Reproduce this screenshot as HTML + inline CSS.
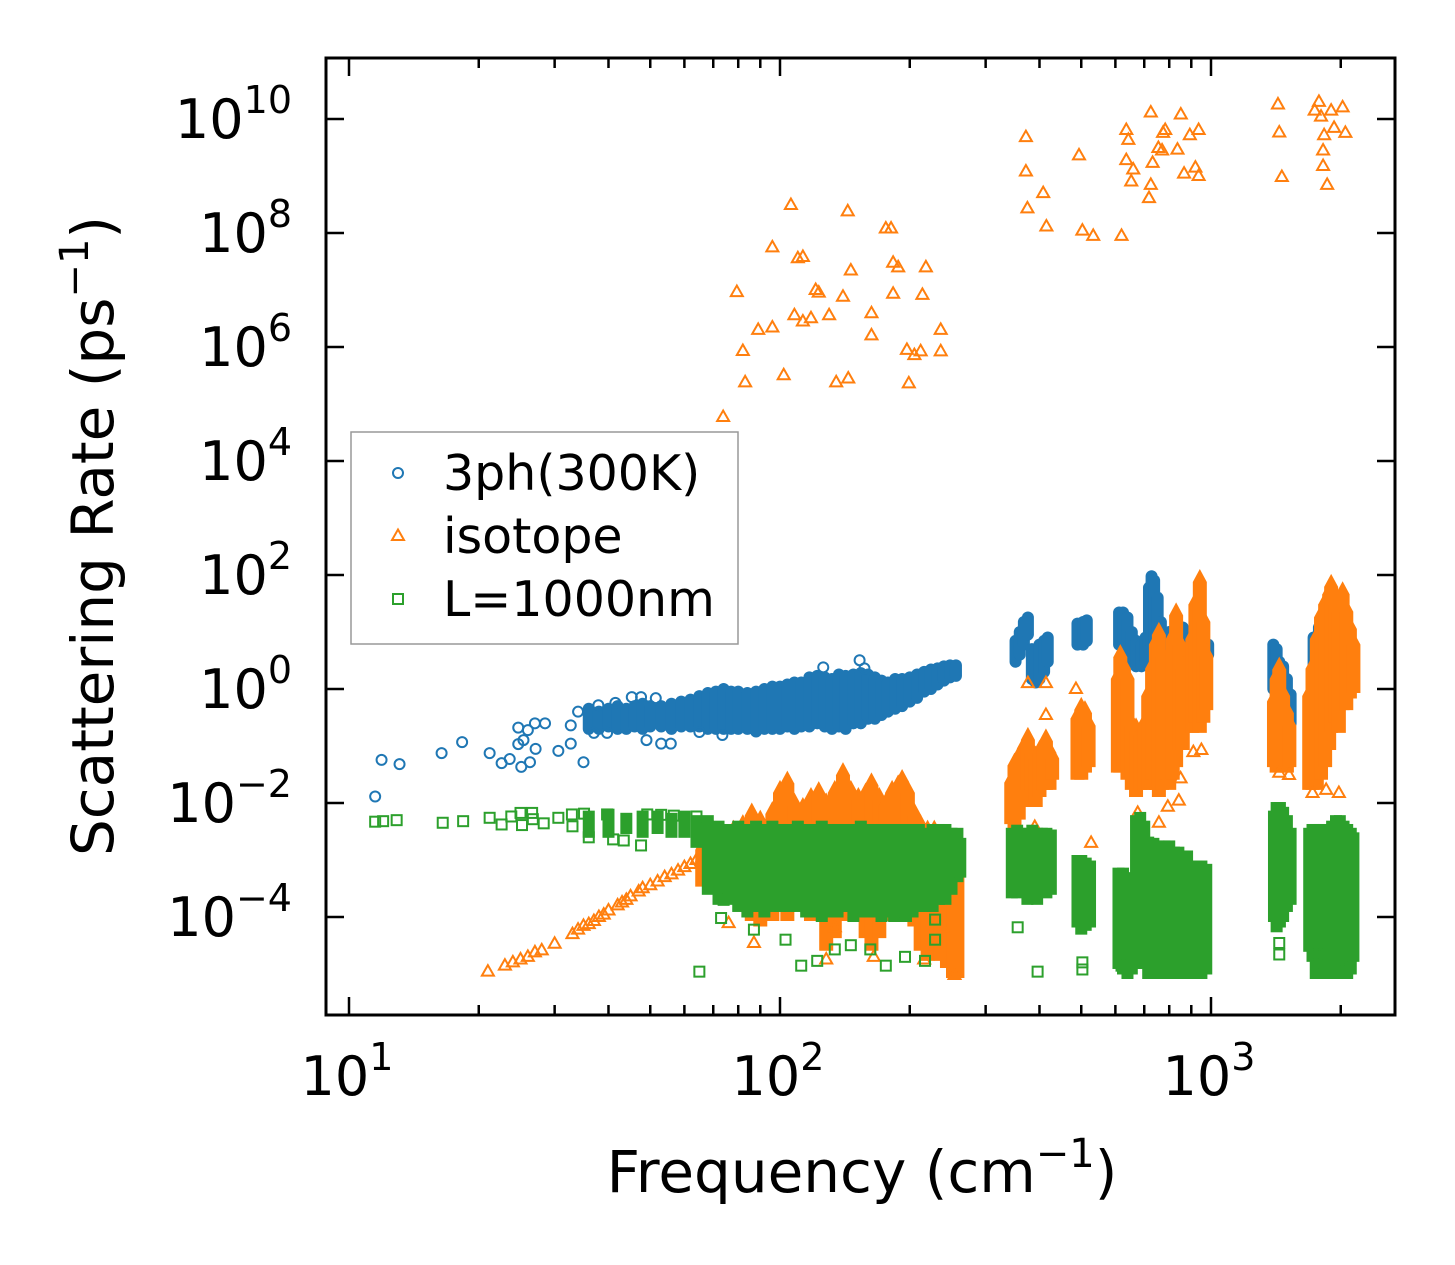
<!DOCTYPE html>
<html><head><meta charset="utf-8"><style>
html,body{margin:0;padding:0;background:#fff;}
svg{display:block;font-family:"DejaVu Sans","Liberation Sans",sans-serif;}
</style></head><body>
<svg id="chart" width="1455" height="1265" viewBox="0 0 1455 1265" xmlns="http://www.w3.org/2000/svg">
<rect x="0" y="0" width="1455" height="1265" fill="#fff"/>
<g id="marks"></g>
<g id="axes"></g>
</svg>
<script>
// ---- data ----
const blueFreq=[11.5,11.9,13.1,16.4,18.3,21.2,22.6,23.6,25.1,26.3,24.7,25.4,24.7,26,27,28.5,27.1,30.6,35,32.7,32.7,34,37,37.9,41.5,45.3,47.6,51.5,49,53,55.8,39.7,65,73.5,126,153,157];
const blueVal=[0.013,0.057,0.048,0.075,0.117,0.075,0.05,0.059,0.043,0.052,0.108,0.127,0.21,0.19,0.25,0.25,0.089,0.082,0.052,0.11,0.23,0.4,0.17,0.52,0.57,0.72,0.72,0.69,0.127,0.11,0.11,0.17,0.176,0.156,2.4,3.2,2.3];
const blueStreakFreq=[36,38,40,42,44,46,48,50,53,56,59,62,65,68,71,74,77,80,84,88,92,96,100,104,108,112,117,122,127,132,137,142,148,154,160,166,172,178,185,192,200,208,216,224,232,240,248,256,
352,360,368,376,384,392,400,410,418,490,505,515,612,625,640,655,670,690,705,718,728,738,752,765,780,800,830,860,890,910,935,960,985,
1395,1420,1440,1470,1500,1530,1700,1730,1760,1730,1780,1830,1880,1930,1980,2040,2100,2140];
const blueStreakLo=[0.2,0.2,0.22,0.2,0.2,0.22,0.2,0.22,0.22,0.2,0.22,0.22,0.22,0.2,0.2,0.2,0.2,0.2,0.2,0.18,0.2,0.2,0.2,0.22,0.2,0.22,0.22,0.25,0.22,0.2,0.22,0.2,0.25,0.25,0.3,0.3,0.35,0.4,0.45,0.5,0.6,0.7,0.9,1.0,1.2,1.4,1.6,1.7,
3,4,6,9,1.5,1.3,1.5,2,3,6,6,7,6,5,5,3,2.5,2.5,3,5,6,4,3,3,3,3,3,2.4,3,3.2,3.5,3.5,4,
1,0.5,0.3,0.25,0.2,0.25,0.03,0.022,0.05,0.5,0.4,0.5,0.45,0.5,0.6,0.8,1,1.5];
const blueStreakHi=[0.45,0.4,0.45,0.5,0.45,0.5,0.55,0.5,0.5,0.55,0.6,0.65,0.75,0.85,0.9,1.0,0.9,0.9,0.85,0.9,1.0,1.1,1.1,1.2,1.3,1.3,1.6,1.7,1.6,1.5,1.8,1.7,1.8,1.9,1.8,1.6,1.4,1.3,1.5,1.5,1.6,1.8,2.0,2.2,2.3,2.5,2.6,2.6,
7,10,15,18,5,5,6,7,8,14,15,16,22,22,18,10,7,6,8,60,95,80,40,15,8,10,12,12,10,9,9,8,6,
6,5,3,2.5,1.5,0.8,0.5,0.3,0.5,8,12,15,16,14,12,10,8,5];

const orFreq=[73.8,79.4,82,83,89,96,96,102,106,110,113,108,113,118,121,123,130,135,140,144,143.6,146,163,163,176,181,183,188,183,197,199,205,212,214,218,236,236,
372,372,375,408,415,494,503,533,636,643,620,636,660,653,718,725,725,732,755,774,770,783,836,851,866,893,920,936,936,
1430,1440,1460,1740,1780,1800,1830,1820,1820,1860,1900,1930,2020,2050,
21,23,24,25,26,27,28,30,33,34,35,36,37,38,39,40,42,43,44,45,47,48,50,52,54,56,58,60,62,64,66,
87,76,134,128,165,216,254,238,376,414,414,390,486,527,676,757,794,842,950,910,850,1440,1517,1980,1850,1720];
const orVal=[5.9e4,9.2e6,8.5e5,2.4e5,2e6,5.6e7,2.2e6,3.2e5,3.1e8,3.6e7,3.8e7,3.6e6,2.8e6,3.2e6,1e7,9e6,3.6e6,2.4e5,7.6e6,2.8e5,2.4e8,2.2e7,3.9e6,1.6e6,1.2e8,1.2e8,3e7,2.5e7,8.6e6,8.9e5,2.3e5,7.2e5,8.4e5,8.2e6,2.5e7,2e6,8.4e5,
4.8e9,1.2e9,2.7e8,5e8,1.3e8,2.3e9,1.1e8,8.9e7,6.4e9,4.3e9,8.9e7,1.9e9,1.3e9,8e8,4.1e8,7e8,1.3e10,1.7e9,3.1e9,5.7e9,2.8e9,6.4e9,2.9e9,1.2e10,1.1e9,5.2e9,1.4e9,1e9,6.4e9,
1.8e10,5.8e9,9.6e8,1.4e10,2e10,1.1e10,5.2e9,1.5e9,2.8e9,7e8,1.4e10,7e9,1.6e10,5.7e9,
1.1e-5,1.4e-5,1.6e-5,1.8e-5,2e-5,2.4e-5,2.6e-5,3.4e-5,5e-5,6e-5,7e-5,7.5e-5,8.5e-5,1e-4,1.1e-4,1.3e-4,1.6e-4,1.8e-4,2e-4,2.3e-4,2.8e-4,3.2e-4,3.6e-4,4.2e-4,5e-4,5.6e-4,6.5e-4,7.5e-4,8.5e-4,1e-3,1.1e-3,
3.5e-5,7.8e-5,6.6e-5,1.8e-5,2e-5,1.8e-5,9.6e-6,6.6e-5,1.27,1.27,0.35,0.0038,1.0,0.002,0.0067,0.0045,0.0086,0.011,0.085,0.078,0.027,0.034,0.031,0.015,0.017,0.015];
const orStreakFreq=[66,70,74,78,82,86,90,96,100,104,108,113,118,123,128,134,140,146,152,158,163,170,176,182,188,192,198,205,212,220,228,236,244,252,258,
344,350,358,368,376,384,392,400,408,414,422,428,490,500,510,520,
608,616,628,640,655,670,685,700,715,730,745,757,770,785,800,815,830,845,860,875,905,920,942,960,975,
1400,1420,1440,1470,1500,1520,1690,1720,1760,1800,1840,1880,1900,1940,1980,2020,2060,2100,2140];
const orStreakLo=[4e-4,3e-4,3e-4,3e-4,2e-4,1e-4,8e-5,1e-4,2e-4,1e-4,2e-4,2e-4,1e-4,1e-4,3e-5,5e-5,1e-4,1e-4,1e-4,5e-5,3e-5,5e-5,1e-4,1e-4,1e-4,1e-4,1e-4,8e-5,3e-5,2e-5,3e-5,2e-5,1.5e-5,1e-5,1e-5,
0.005,0.004,0.006,0.01,0.02,0.02,0.01,0.015,0.02,0.02,0.02,0.03,0.03,0.03,0.04,0.05,
0.04,0.04,0.05,0.03,0.02,0.015,0.02,0.02,0.02,0.03,0.02,0.015,0.02,0.03,0.02,0.03,0.05,0.1,0.1,0.2,0.2,0.3,0.2,0.3,0.5,
0.05,0.04,0.05,0.04,0.04,0.05,0.02,0.02,0.02,0.03,0.05,0.1,0.2,0.3,0.2,0.5,0.5,0.8,1];
const orStreakHi=[2e-3,4e-3,3e-3,4e-3,5e-3,8e-3,6e-3,8.5e-3,0.02,0.029,0.012,0.01,0.015,0.019,0.012,0.02,0.041,0.02,0.015,0.018,0.027,0.015,0.012,0.02,0.025,0.031,0.02,0.008,0.005,0.004,0.004,0.003,0.0025,0.002,0.0015,
0.03,0.06,0.08,0.12,0.17,0.1,0.08,0.1,0.12,0.16,0.1,0.08,0.4,0.57,0.5,0.3,
2,4.8,3,2,0.3,0.25,0.2,0.3,1,3,8,11.8,5,0.5,1,10,26,8,3,2,10,40,100,20,5,
0.8,2,2.9,1,0.5,0.3,1,3,10,24,40,60,82,40,30,61,30,15,8];

const grFreq=[11.5,12,12.9,16.5,18.4,21.2,22.6,23.8,25,26.6,25.2,26.7,28.3,30.6,32.9,35.1,33,36,39.7,41,43.4,47.6,49.2,53,56.7,64,65,73,74,87,103,112,122,134,146,162,176,195,217,229,229,503,503,396,356,1440,1440,620,1760,1790,2040];
const grVal=[0.0047,0.0048,0.005,0.0045,0.0048,0.0055,0.0042,0.0058,0.0067,0.0067,0.0041,0.0052,0.0044,0.0055,0.0063,0.0065,0.0039,0.0025,0.0063,0.0023,0.0022,0.0018,0.0063,0.0062,0.006,0.0058,1.1e-5,9.6e-5,2e-4,6e-5,4e-5,1.4e-5,1.7e-5,2.7e-5,3.2e-5,2.7e-5,1.4e-5,2e-5,1.7e-5,4e-5,9e-5,1.6e-5,1.2e-5,1.1e-5,6.6e-5,3.5e-5,2.2e-5,1.4e-5,2.2e-5,1.4e-5,1.2e-5];
const grStreakFreq=[36,40,44,48,52,56,60,64,68,72,76,80,84,88,92,96,100,105,110,115,120,125,130,136,142,148,154,160,166,172,178,184,190,196,203,210,218,226,234,242,250,258,262,
345,355,365,375,385,395,405,415,425,490,500,512,524,
610,625,640,655,670,685,700,715,735,755,780,800,820,840,860,880,900,925,950,975,
1400,1420,1445,1470,1500,1530,1690,1720,1750,1790,1830,1870,1910,1950,1990,2030,2070,2110,2140];
const grStreakLo=[0.003,0.003,0.0035,0.003,0.0035,0.003,0.003,0.002,3e-4,2e-4,2e-4,1.5e-4,1.2e-4,1.5e-4,1.2e-4,1.5e-4,1.5e-4,1.5e-4,1.5e-4,1.2e-4,1.2e-4,1e-4,1.2e-4,1.2e-4,1.5e-4,1e-4,1.2e-4,1.2e-4,1.2e-4,1e-4,1.2e-4,1e-4,1.2e-4,1e-4,1.2e-4,1.5e-4,1.5e-4,1.5e-4,2e-4,2e-4,3e-4,5e-4,6e-4,
2.6e-4,2.6e-4,3e-4,2e-4,2.5e-4,2e-4,3e-4,2.6e-4,3e-4,8e-5,6e-5,7e-5,8e-5,
1.5e-5,1.2e-5,1e-5,1.2e-5,1.5e-5,2e-5,1.5e-5,1e-5,1.2e-5,1e-5,1e-5,1.2e-5,1e-5,1e-5,1e-5,1.2e-5,1e-5,1e-5,1e-5,1.2e-5,
1e-4,6.6e-5,8e-5,1e-4,1.5e-4,2e-4,3e-5,2e-5,1e-5,1e-5,1.5e-5,1e-5,1.2e-5,1e-5,1e-5,1e-5,1e-5,1.2e-5,2e-5];
const grStreakHi=[0.006,0.0065,0.0055,0.006,0.006,0.0055,0.006,0.005,0.005,0.004,0.0035,0.004,0.0035,0.004,0.0035,0.004,0.0035,0.0035,0.004,0.0035,0.0035,0.004,0.0035,0.0035,0.0035,0.0035,0.004,0.0035,0.0035,0.0035,0.0035,0.0035,0.0035,0.0035,0.0035,0.0035,0.003,0.0035,0.0035,0.0035,0.003,0.003,0.002,
0.003,0.0034,0.003,0.003,0.0034,0.003,0.003,0.003,0.0028,1e-3,1e-3,9e-4,8e-4,
6e-4,6e-4,5e-4,4e-4,0.005,0.0057,0.004,0.0021,0.002,0.0018,0.0018,0.0018,0.0014,0.0014,0.0012,0.0012,8e-4,8e-4,8e-4,7e-4,
0.006,0.0085,0.0085,0.007,0.005,0.003,0.003,0.0035,0.0035,0.0035,0.0035,0.003,0.004,0.005,0.005,0.004,0.0035,0.003,0.0025];

const xTickVals=[10,100,1000];
const xTickExp=["1","2","3"];
const yTickExps=[-4,-2,0,2,4,6,8,10];

// ---- scales ----
const PL=326,PR=1395,PT=58,PB=1015;
function X(f){return 349+431*(Math.log10(f)-1);}
function Y(v){return 689-57*Math.log10(v);}
const NS="http://www.w3.org/2000/svg";
const marks=document.getElementById('marks');
const axes=document.getElementById('axes');
function mk(tag,attrs,parent){const e=document.createElementNS(NS,tag);for(const k in attrs)e.setAttribute(k,attrs[k]);parent.appendChild(e);return e;}
const BLUE="#1f77b4",ORANGE="#ff7f0e",GREEN="#2ca02c";

const clip=mk('clipPath',{id:'pc'},marks);mk('rect',{x:PL,y:PT,width:PR-PL,height:PB-PT},clip);

// blue
const gB=mk('g',{'clip-path':'url(#pc)'},marks);


blueStreakFreq.forEach((f,i)=>{
  const l=mk('line',{x1:X(f),x2:X(f),y1:Y(blueStreakLo[i]),y2:Y(blueStreakHi[i]),stroke:BLUE,'stroke-width':12,'stroke-linecap':'round'},gB);
  
  
});
blueFreq.forEach((f,i)=>{
  const c=mk('circle',{cx:X(f),cy:Y(blueVal[i]),r:5,fill:'none',stroke:BLUE,'stroke-width':2},gB);
  
  
});
// orange
const gO=mk('g',{'clip-path':'url(#pc)'},marks);


orStreakFreq.forEach((f,i)=>{
  const x=X(f),yl=Y(orStreakLo[i])+4,yh=Y(orStreakHi[i])-6;
  const p=mk('polygon',{points:`${x-7},${yl} ${x-7},${Math.min(yl,yh+13)} ${x},${yh} ${x+7},${Math.min(yl,yh+13)} ${x+7},${yl}`,fill:ORANGE},gO);
  
  
});
orFreq.forEach((f,i)=>{
  const x=X(f),y=Y(orVal[i]);
  const p=mk('polygon',{points:`${x},${y-6.5} ${x-6},${y+4} ${x+6},${y+4}`,fill:'none',stroke:ORANGE,'stroke-width':2},gO);
  
  
});
// green
const gG=mk('g',{'clip-path':'url(#pc)'},marks);


grStreakFreq.forEach((f,i)=>{
  const yh=Y(grStreakHi[i])-5,yl=Y(grStreakLo[i])+5;
  const r=mk('rect',{x:X(f)-6,y:yh,width:12,height:yl-yh,fill:GREEN},gG);
  
  
});
grFreq.forEach((f,i)=>{
  const r=mk('rect',{x:X(f)-5,y:Y(grVal[i])-5,width:10,height:10,fill:'none',stroke:GREEN,'stroke-width':2},gG);
  
  
});

// axes frame
const frame=mk('rect',{x:PL,y:PT,width:PR-PL,height:PB-PT,fill:'none',stroke:'#000','stroke-width':3},axes);


// x ticks
for(let d=1;d<=3;d++){for(let m=1;m<=9;m++){const f=m*Math.pow(10,d);const x=X(f);if(x<PL+2||x>PR-2)continue;
  const len=m===1?18:10;
  mk('line',{x1:x,x2:x,y1:PB,y2:PB-len,stroke:'#000','stroke-width':2.5},axes);
  mk('line',{x1:x,x2:x,y1:PT,y2:PT+len,stroke:'#000','stroke-width':2.5},axes);}}
xTickVals.forEach((v,i)=>{
  const t=mk('text',{x:X(v)-2,y:1095,'text-anchor':'middle','font-size':54,fill:'#000'},axes);
  
  
  t.innerHTML=`10<tspan font-size="38" dy="-25">${xTickExp[i]}</tspan>`;
});
// y ticks
yTickExps.forEach(e=>{
  const y=Y(Math.pow(10,e));
  mk('line',{x1:PL,x2:PL+18,y1:y,y2:y,stroke:'#000','stroke-width':2.5},axes);
  mk('line',{x1:PR,x2:PR-18,y1:y,y2:y,stroke:'#000','stroke-width':2.5},axes);
  const t=mk('text',{x:292,y:y+19,'text-anchor':'end','font-size':54,fill:'#000'},axes);
  
  
  t.innerHTML=`10<tspan font-size="38" dy="-25">${e<0?'\u2212'+(-e):e}</tspan>`;
});
// titles
const xt=mk('text',{x:862,y:1192,'text-anchor':'middle','font-size':58,fill:'#000'},axes);


xt.innerHTML='Frequency (cm<tspan font-size="40" dy="-25">\u22121</tspan><tspan dy="25">)</tspan>';
const yt=mk('text',{x:0,y:0,'text-anchor':'middle','font-size':58,fill:'#000',transform:'translate(113,536) rotate(-90)'},axes);


yt.innerHTML='Scattering Rate (ps<tspan font-size="40" dy="-25">\u22121</tspan><tspan dy="25">)</tspan>';
// legend
const lg=mk('g',{},axes);


mk('rect',{x:351,y:432,width:387,height:212,fill:'#fff','fill-opacity':0.85,stroke:'#999','stroke-width':1.5},lg);
const labels=['3ph(300K)','isotope','L=1000nm'];
const ly=[473,536,599];
mk('circle',{cx:398,cy:ly[0],r:5,fill:'none',stroke:BLUE,'stroke-width':2},lg);
mk('polygon',{points:`398,${ly[1]-6.5} 392,${ly[1]+4} 404,${ly[1]+4}`,fill:'none',stroke:ORANGE,'stroke-width':2},lg);
mk('rect',{x:393,y:ly[2]-5,width:10,height:10,fill:'none',stroke:GREEN,'stroke-width':2},lg);
labels.forEach((s,i)=>{
  const t=mk('text',{x:443,y:ly[i]+17,'font-size':49,fill:'#000'},lg);
  
  
  t.textContent=s;
});
</script>
</body></html>
